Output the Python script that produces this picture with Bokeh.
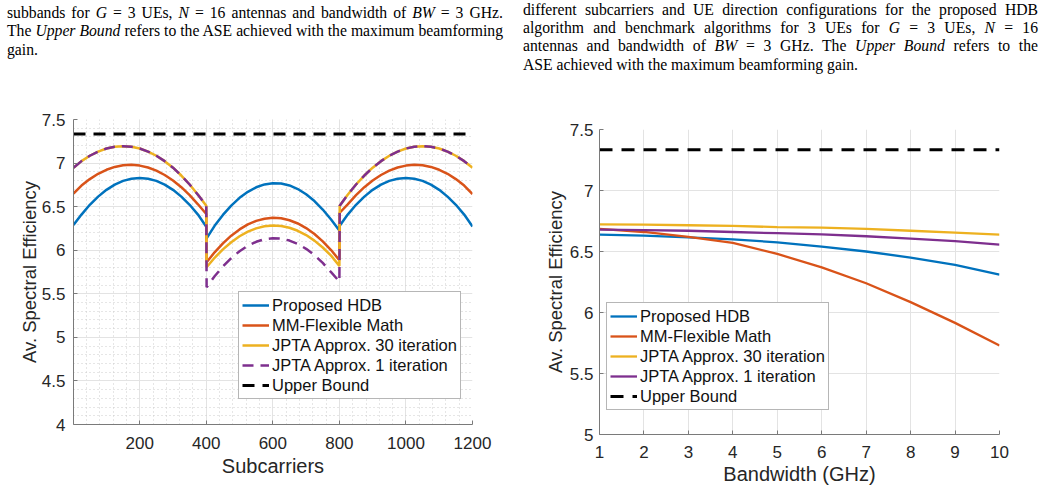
from bokeh.plotting import figure
from bokeh.models import (Range1d, SingleIntervalTicker, CustomJSTickFormatter,
                          Legend, LegendItem, Div, Spacer)
from bokeh.layouts import column, row
from bokeh.embed import file_html
from bokeh.resources import INLINE

# ---------------- caption text (two columns) ----------------
caption_left = [
    "subbands for <i>G</i> = 3 UEs, <i>N</i> = 16 antennas and bandwidth of <i>BW</i> = 3 GHz.",
    "The <i>Upper Bound</i> refers to the ASE achieved with the maximum beamforming",
    "gain.",
]
caption_right = [
    "different subcarriers and UE direction configurations for the proposed HDB",
    "algorithm and benchmark algorithms for 3 UEs for <i>G</i> = 3 UEs, <i>N</i> = 16",
    "antennas and bandwidth of <i>BW</i> = 3 GHz. The <i>Upper Bound</i> refers to the",
    "ASE achieved with the maximum beamforming gain.",
]

# ---------------- ASE versus subcarrier index (three subbands) ----------------
band1_x = [1, 25, 50, 75, 100, 125, 150, 175, 200, 225, 250, 275, 300, 325, 350, 375, 400]
band2_x = [401, 425, 450, 475, 500, 525, 550, 575, 600, 625, 650, 675, 700, 725, 750, 775, 800]
band3_x = [801, 825, 850, 875, 900, 925, 950, 975, 1000, 1025, 1050, 1075, 1100, 1125, 1150, 1175, 1200]
sub_x = band1_x + band2_x + band3_x

hdb_sc = ([6.290, 6.409, 6.521, 6.615, 6.693, 6.753, 6.796, 6.821, 6.830, 6.821, 6.796, 6.753, 6.693, 6.615, 6.521, 6.409, 6.270]
          + [6.135, 6.280, 6.405, 6.512, 6.601, 6.670, 6.722, 6.755, 6.769, 6.765, 6.743, 6.702, 6.642, 6.564, 6.467, 6.352, 6.225]
          + [6.280, 6.409, 6.521, 6.615, 6.693, 6.753, 6.796, 6.821, 6.830, 6.821, 6.796, 6.753, 6.693, 6.615, 6.521, 6.409, 6.272])
mm_sc = ([6.650, 6.742, 6.816, 6.877, 6.923, 6.956, 6.975, 6.980, 6.971, 6.949, 6.913, 6.863, 6.800, 6.723, 6.632, 6.527, 6.415]
         + [5.862, 5.976, 6.079, 6.167, 6.239, 6.296, 6.337, 6.362, 6.372, 6.366, 6.344, 6.307, 6.254, 6.186, 6.102, 6.002, 5.885]
         + [6.430, 6.527, 6.632, 6.723, 6.800, 6.863, 6.913, 6.949, 6.971, 6.980, 6.975, 6.956, 6.923, 6.877, 6.816, 6.742, 6.645])
jpta30_sc = ([6.947, 7.022, 7.084, 7.132, 7.167, 7.187, 7.194, 7.187, 7.167, 7.132, 7.084, 7.022, 6.947, 6.857, 6.754, 6.637, 6.510]
             + [5.805, 5.913, 6.010, 6.092, 6.160, 6.213, 6.251, 6.275, 6.284, 6.278, 6.258, 6.223, 6.174, 6.110, 6.031, 5.938, 5.820]
             + [6.510, 6.637, 6.754, 6.857, 6.947, 7.022, 7.084, 7.132, 7.167, 7.187, 7.194, 7.187, 7.167, 7.132, 7.084, 7.022, 6.947])
jpta1_sc = ([6.947, 7.022, 7.084, 7.132, 7.167, 7.187, 7.194, 7.187, 7.167, 7.132, 7.084, 7.022, 6.947, 6.857, 6.754, 6.637, 6.510]
            + [5.576, 5.701, 5.814, 5.910, 5.989, 6.052, 6.097, 6.126, 6.138, 6.133, 6.111, 6.072, 6.016, 5.944, 5.854, 5.748, 5.640]
            + [6.510, 6.637, 6.754, 6.857, 6.947, 7.022, 7.084, 7.132, 7.167, 7.187, 7.194, 7.187, 7.167, 7.132, 7.084, 7.022, 6.947])

# ---------------- ASE versus bandwidth ----------------
bw_ghz = [1, 2, 3, 4, 5, 6, 7, 8, 9, 10]
hdb_bw = [6.638, 6.630, 6.615, 6.600, 6.575, 6.540, 6.500, 6.450, 6.390, 6.310]
mm_bw = [6.685, 6.660, 6.620, 6.570, 6.480, 6.370, 6.240, 6.085, 5.915, 5.730]
jpta30_bw = [6.723, 6.720, 6.715, 6.710, 6.700, 6.695, 6.685, 6.670, 6.655, 6.638]
jpta1_bw = [6.680, 6.675, 6.670, 6.660, 6.650, 6.640, 6.625, 6.605, 6.585, 6.557]

upper_bound = 7.335

labels = ["Proposed HDB", "MM-Flexible Math", "JPTA Approx. 30 iteration",
          "JPTA Approx. 1 iteration", "Upper Bound"]
colors = ["#0072BD", "#D95319", "#EDB120", "#7E2F8E", "#000000"]

SANS = "Liberation Sans"
AX_COLOR = "#7a7a7a"
TXT_COLOR = "#262626"


def caption_div(lines, width, left_pad, text_width, top):
    parts = []
    for i, ln in enumerate(lines):
        last = i == len(lines) - 1
        align = "text-align:left;" if last else "text-align:justify;text-align-last:justify;"
        parts.append(f'<div style="{align}white-space:nowrap;">{ln}</div>')
    html = (f'<div style="margin-left:{left_pad}px;margin-top:{top}px;width:{text_width}px;'
            f"font-family:'Liberation Serif';font-size:15.7px;line-height:18.4px;color:#000;\">"
            + "".join(parts) + "</div>")
    return Div(text=html, width=width, height=80, margin=(0, 0, 0, 0))


def style_axes(p, xlabel, ylabel, xticker, yticker, minor, x_stand, y_stand):
    p.xaxis.ticker = xticker
    p.yaxis.ticker = yticker
    fmt = "return tick.toString();"
    p.xaxis.formatter = CustomJSTickFormatter(code=fmt)
    p.yaxis.formatter = CustomJSTickFormatter(code=fmt)
    p.xaxis.axis_label = xlabel
    p.yaxis.axis_label = ylabel
    for ax in (p.xaxis[0], p.yaxis[0]):
        ax.axis_line_color = AX_COLOR
        ax.axis_line_width = 1
        ax.major_tick_line_color = AX_COLOR
        ax.major_tick_in = 4
        ax.major_tick_out = 0
        ax.minor_tick_line_color = None
        ax.major_label_text_font = SANS
        ax.major_label_text_font_size = "17px"
        ax.major_label_text_color = TXT_COLOR
        ax.axis_label_text_font = SANS
        ax.axis_label_text_font_style = "normal"
        ax.axis_label_text_color = TXT_COLOR
    p.xaxis.major_label_standoff = x_stand[0]
    p.xaxis.axis_label_standoff = x_stand[1]
    p.yaxis.major_label_standoff = y_stand[0]
    p.yaxis.axis_label_standoff = y_stand[1]
    p.xaxis.axis_label_text_font_size = "20px"
    p.yaxis.axis_label_text_font_size = "18.5px"
    for g in (p.xgrid[0], p.ygrid[0]):
        g.grid_line_color = "#e3e3e3"
        g.grid_line_width = 1
        if minor:
            g.minor_grid_line_color = "#cccccc"
            g.minor_grid_line_dash = "1 3"
            g.minor_grid_line_width = 1
    p.outline_line_color = None
    p.background_fill_color = "#ffffff"
    p.border_fill_color = "#ffffff"


def add_legend(p, renderers, loc):
    items = [LegendItem(label=lab, renderers=[r]) for lab, r in zip(labels, renderers)]
    leg = Legend(items=items, location=loc, margin=0, padding=3, spacing=0,
                 glyph_width=27, glyph_height=20, label_height=20, label_standoff=3,
                 label_text_font=SANS, label_text_font_size="16.5px",
                 label_text_color="#111111",
                 border_line_color="#6e6e6e", border_line_width=1,
                 background_fill_color="#ffffff", background_fill_alpha=1)
    p.add_layout(leg)


# ---------- left chart: subcarriers ----------
p1 = figure(width=520, height=413, x_range=Range1d(1, 1200), y_range=Range1d(4, 7.5),
            output_backend="svg", toolbar_location=None,
            min_border_left=73, min_border_right=48, min_border_top=39, min_border_bottom=69,
            margin=(0, 0, 0, 0))
style_axes(p1, "Subcarriers", "Av. Spectral Efficiency",
           SingleIntervalTicker(interval=200, num_minor_ticks=5),
           SingleIntervalTicker(interval=0.5, num_minor_ticks=5), True,
           (8, 3), (4, -1))
r1 = p1.line(sub_x, hdb_sc, line_color=colors[0], line_width=2.5)
r2 = p1.line(sub_x, mm_sc, line_color=colors[1], line_width=2.5)
r3 = p1.line(sub_x, jpta30_sc, line_color=colors[2], line_width=2.5)
r4 = p1.line(sub_x, jpta1_sc, line_color=colors[3], line_width=2.5, line_dash="11 7")
r5 = p1.line([sub_x[0], sub_x[-1]], [upper_bound, upper_bound], line_color=colors[4],
             line_width=3, line_dash="12 8")
add_legend(p1, [r1, r2, r3, r4, r5], (165, 25))

# ---------- right chart: bandwidth (sits 10 px lower) ----------
p2 = figure(width=521, height=403, x_range=Range1d(1, 10), y_range=Range1d(5, 7.5),
            output_backend="svg", toolbar_location=None,
            min_border_left=79, min_border_right=42, min_border_top=39, min_border_bottom=59,
            margin=(0, 0, 0, 0))
style_axes(p2, "Bandwidth (GHz)", "Av. Spectral Efficiency",
           SingleIntervalTicker(interval=1, num_minor_ticks=0),
           SingleIntervalTicker(interval=0.5, num_minor_ticks=0), False,
           (11, 2), (6, 1))
q1 = p2.line(bw_ghz, hdb_bw, line_color=colors[0], line_width=2.3)
q2 = p2.line(bw_ghz, mm_bw, line_color=colors[1], line_width=2.3)
q3 = p2.line(bw_ghz, jpta30_bw, line_color=colors[2], line_width=2.3)
q4 = p2.line(bw_ghz, jpta1_bw, line_color=colors[3], line_width=2.3)
q5 = p2.line([bw_ghz[0], bw_ghz[-1]], [upper_bound, upper_bound], line_color=colors[4],
             line_width=3, line_dash="13 9")
add_legend(p2, [q1, q2, q3, q4, q5], (7, 24))

cap_l = caption_div(caption_left, 520, 7, 496, 4)
cap_r = caption_div(caption_right, 521, 3, 515, 0.5)

right_col = column(Spacer(width=521, height=10, margin=(0, 0, 0, 0)), p2, spacing=0)
layout = column(row(cap_l, cap_r, spacing=0), row(p1, right_col, spacing=0), spacing=0)

open("out.html", "w").write(file_html(layout, INLINE))
